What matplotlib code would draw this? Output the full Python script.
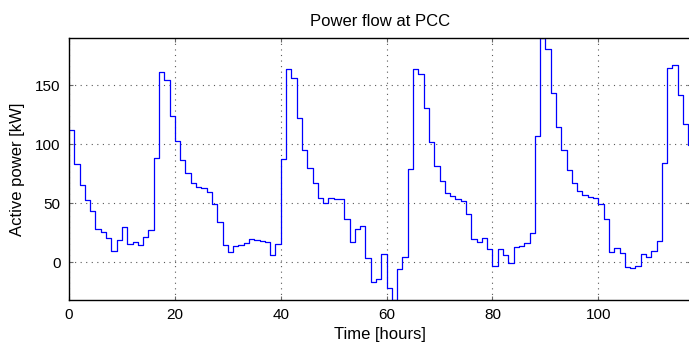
import numpy as np
import matplotlib
matplotlib.use('Agg')
import matplotlib.pyplot as plt

# hourly active power at the PCC [kW]
hours = np.arange(0, 118)
power = [112, 83.4, 65.4, 52.5, 43.5, 28, 25.6, 20.5, 9.8, 18.5,
         29.5, 15.4, 17, 14.3, 21.6, 27.2, 88.5, 161.5, 154.5, 123.6,
         102.5, 87, 75.3, 67.4, 64, 62.6, 59.3, 49, 33.7, 15,
         8.4, 13.5, 15, 16.3, 19.4, 18.8, 18.3, 16.9, 6.5, 15.4,
         87.6, 164, 156, 122, 95.5, 80, 66.9, 54.8, 50.6, 54.2,
         53.4, 53.4, 36.5, 16.9, 28.5, 31, 3.4, -16.9, -14, 7,
         -21.6, -32, -5.6, 4.2, 78.7, 163.8, 159.6, 130.6, 101.7, 81.5,
         68.8, 58.4, 56.2, 53.4, 52, 40.7, 19.7, 17.4, 20.5, 11.2,
         -3.4, 11.2, 6.2, -0.8, 12.6, 14, 16.6, 25, 107.3, 190,
         180.6, 143.5, 115, 94.7, 78, 66.9, 60.4, 56.7, 55.6, 54.2,
         49, 37, 9, 11.8, 7.9, -4.2, -5, -3, 7, 4.8,
         9.3, 17.7, 84.3, 165, 167, 141.9, 117.4, 99]

xticks = [0, 20, 40, 60, 80, 100]
yticks = [0, 50, 100, 150]

plt.rcParams['font.family'] = ['Liberation Sans', 'DejaVu Sans']

W, H = 689, 347
fig = plt.figure(figsize=(W / 100, H / 100), dpi=100)
ax = fig.add_axes([69 / W, 1 - 300 / H, 622 / W, (300 - 38) / H])

x = np.append(hours, hours[-1] + 1)
y = np.append(power, power[-1])
ax.step(x, y, where='post', color='#0000ff', lw=0.9)

ax.set_xlim(0, 117.5)
ax.set_ylim(min(power), max(power))
ax.set_xticks(xticks)
ax.set_yticks(yticks)
ax.grid(True, linestyle=(0, (1, 4)), color='0.35', lw=0.8)
ax.tick_params(direction='in', length=3, color='0.4', top=True, right=True,
               labelsize=11, pad=6)
for s in ax.spines.values():
    s.set_linewidth(1.0)

ax.set_title('Power flow at PCC', fontsize=12, pad=9)
ax.set_xlabel('Time [hours]', fontsize=12, labelpad=3)
ax.set_ylabel('Active power [kW]', fontsize=12, labelpad=7)

fig.savefig('out.png', dpi=100)
